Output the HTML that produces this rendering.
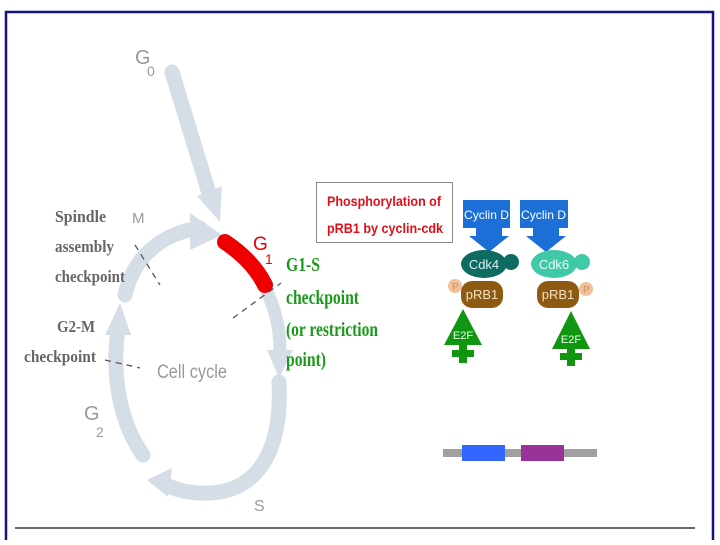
<!DOCTYPE html>
<html><head><style>
html,body{margin:0;padding:0;background:#fff;}
body{width:720px;height:540px;position:relative;overflow:hidden;}
</style></head><body>
<svg width="720" height="540" viewBox="0 0 720 540" xmlns="http://www.w3.org/2000/svg">
<rect x="0" y="0" width="720" height="540" fill="#fff"/>
<path d="M6 540 V12 H713 V540" fill="none" stroke="#14147a" stroke-width="2.5"/>
<line x1="15" y1="528" x2="695" y2="528" stroke="#6a6a6a" stroke-width="2"/>

<g fill="none" stroke="#d5dee6" stroke-linecap="round">
<path d="M172 72 L208 190" stroke-width="15"/>
<path d="M125 295 C135 250 170 232 200 228" stroke-width="15"/>
<path d="M266 290 C276 310 280 330 280 350" stroke-width="13"/>
<path d="M279 382 C282 440 265 490 210 493 C190 494 175 490 163 483" stroke-width="15"/>
<path d="M143 455 C118 420 112 370 118 330" stroke-width="15"/>
</g>
<g fill="#d5dee6">
<polygon points="197,196 222,186 220,222"/>
<polygon points="190,213 222,235 190,250"/>
<polygon points="267,350 293,350 279,378"/>
<polygon points="172,468 168,497 147,480"/>
<polygon points="105,335 131,335 120,303"/>
</g>
<path d="M225 242 C240 252 255 265 265 285" fill="none" stroke="#ee0000" stroke-width="16" stroke-linecap="round"/>

<g stroke="#555" stroke-width="1.3" stroke-dasharray="6,5" fill="none">
<line x1="135" y1="245" x2="160" y2="285"/>
<line x1="233" y1="318" x2="281" y2="283"/>
<line x1="105" y1="360" x2="140" y2="368"/>
</g>

<g font-family="Liberation Sans, sans-serif" fill="#999">
<text x="135" y="64" font-size="20">G</text><text x="147" y="76" font-size="14">0</text>
<text x="132" y="223" font-size="15">M</text>
<text x="157" y="378" font-size="19" textLength="70" lengthAdjust="spacingAndGlyphs">Cell cycle</text>
<text x="84" y="420" font-size="20">G</text><text x="96" y="437" font-size="14">2</text>
<text x="254" y="511" font-size="16">S</text>
</g>
<g font-family="Liberation Sans, sans-serif" fill="#ee0000">
<text x="253" y="250" font-size="19">G</text><text x="265" y="264" font-size="14">1</text>
</g>
<g font-family="Liberation Serif, serif" fill="#666" font-size="17" font-weight="bold" lengthAdjust="spacingAndGlyphs">
<text x="55" y="222" textLength="51" lengthAdjust="spacingAndGlyphs">Spindle</text>
<text x="55" y="252" textLength="59" lengthAdjust="spacingAndGlyphs">assembly</text>
<text x="55" y="282" textLength="70" lengthAdjust="spacingAndGlyphs">checkpoint</text>
<text x="57" y="332" textLength="38" lengthAdjust="spacingAndGlyphs">G2-M</text>
<text x="24" y="362" textLength="72" lengthAdjust="spacingAndGlyphs">checkpoint</text>
</g>
<g font-family="Liberation Serif, serif" fill="#1a9a1a" font-size="20" font-weight="bold">
<text x="286" y="271" textLength="34" lengthAdjust="spacingAndGlyphs">G1-S</text>
<text x="286" y="304" textLength="73" lengthAdjust="spacingAndGlyphs">checkpoint</text>
<text x="286" y="336" textLength="92" lengthAdjust="spacingAndGlyphs">(or restriction</text>
<text x="286" y="366" textLength="40" lengthAdjust="spacingAndGlyphs">point)</text>
</g>

<rect x="316.5" y="182.5" width="136" height="60" fill="#fff" stroke="#888" stroke-width="1"/>
<g font-family="Liberation Sans, sans-serif" fill="#e0101a" font-size="14" font-weight="bold">
<text x="327" y="206" textLength="114" lengthAdjust="spacingAndGlyphs">Phosphorylation of</text>
<text x="327" y="233" textLength="116" lengthAdjust="spacingAndGlyphs">pRB1 by cyclin-cdk</text>
</g>

<g fill="#1c6fd6">
<polygon points="463,200 510,200 510,228 502,228 502,236 509,236 489,252 469,236 476,236 476,228 463,228"/>
<polygon points="520,200 568,200 568,228 559,228 559,236 566,236 546,252 526,236 533,236 533,228 520,228"/>
</g>
<g font-family="Liberation Sans, sans-serif" fill="#fff" font-size="12">
<text x="464" y="219" textLength="45" lengthAdjust="spacingAndGlyphs">Cyclin D</text>
<text x="521" y="219" textLength="45" lengthAdjust="spacingAndGlyphs">Cyclin D</text>
</g>
<rect x="496" y="258" width="12" height="9" fill="#0d6b62"/>
<circle cx="511" cy="262" r="8" fill="#0d6b62"/>
<ellipse cx="484" cy="264" rx="23" ry="14" fill="#0d6b62"/>
<rect x="566" y="258" width="12" height="9" fill="#40c9a6"/>
<circle cx="582" cy="262" r="8" fill="#40c9a6"/>
<ellipse cx="554" cy="264" rx="23" ry="14" fill="#40c9a6"/>
<g font-family="Liberation Sans, sans-serif" font-size="13" text-anchor="middle">
<text x="484" y="269" fill="#d8f0ec">Cdk4</text>
<text x="554" y="269" fill="#e8fff8">Cdk6</text>
</g>
<circle cx="455" cy="286" r="7" fill="#f2c096"/>
<circle cx="586" cy="289" r="7" fill="#f2c096"/>
<rect x="461" y="281" width="42" height="27" rx="11" fill="#8e5a12"/>
<rect x="537" y="281" width="42" height="27" rx="11" fill="#8e5a12"/>
<g font-family="Liberation Sans, sans-serif" font-size="13" text-anchor="middle" fill="#f0e0c0">
<text x="482" y="299">pRB1</text>
<text x="558" y="299">pRB1</text>
</g>
<g font-family="Liberation Sans, sans-serif" font-size="10" fill="#c89070">
<text x="452" y="290">P</text><text x="583" y="293">P</text>
</g>
<g fill="#119611">
<polygon points="463,309 444,345 482,345"/>
<rect x="459" y="345" width="8" height="18"/>
<rect x="452" y="350" width="22" height="7"/>
<polygon points="571,311 552,349 590,349"/>
<rect x="567" y="349" width="8" height="17"/>
<rect x="560" y="353" width="22" height="7"/>
</g>
<g font-family="Liberation Sans, sans-serif" font-size="11" text-anchor="middle" fill="#e6ffe6">
<text x="463" y="339">E2F</text>
<text x="571" y="343">E2F</text>
</g>

<rect x="443" y="449" width="154" height="8" fill="#a0a0a0"/>
<rect x="462" y="445" width="43" height="16" fill="#3366ff"/>
<rect x="521" y="445" width="43" height="16" fill="#993399"/>
</svg>
</body></html>
